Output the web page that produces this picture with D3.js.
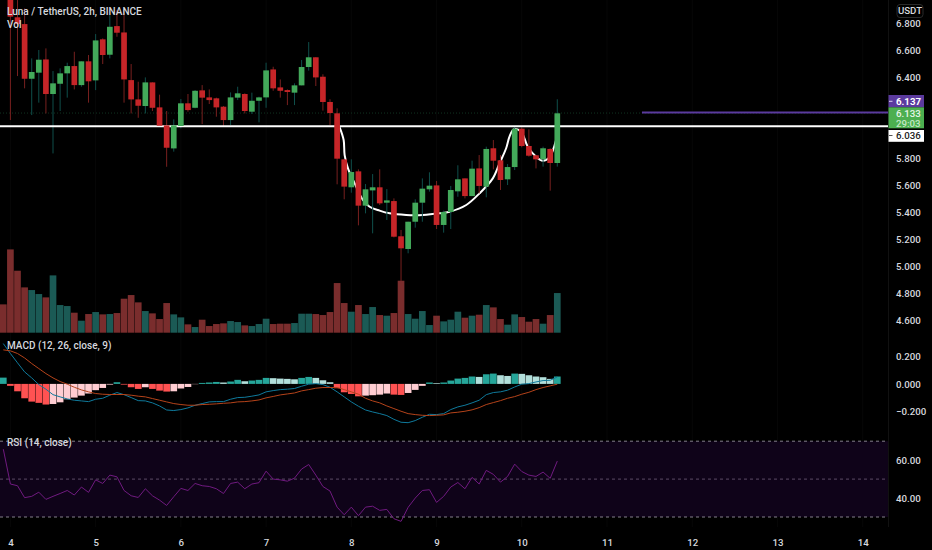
<!DOCTYPE html>
<html>
<head>
<meta charset="utf-8">
<script src="https://d3js.org/d3.v7.min.js"></script>
<style>
  html, body { margin: 0; padding: 0; background: #000; overflow: hidden; }
  text { font-family: Roboto, "Liberation Sans", sans-serif; fill: #d6d8de; }
  .tick text { font-size: 9.7px; font-weight: 500; }
  .axis .domain { stroke: none; }
  .legend { font-size: 10px; font-weight: 500; }
</style>
</head>
<body>
<svg id="chart" width="932" height="550"></svg>
<script>
// all series start one bar before the "4" tick
const opens = [7.15,7.007,6.842,6.792,6.387,6.432,6.530,6.274,6.350,6.427,6.481,6.340,6.516,6.375,6.679,6.565,6.777,6.730,6.377,6.234,6.185,6.360,6.175,6.042,5.871,6.037,6.205,6.172,6.301,6.249,6.242,6.180,6.081,6.247,6.274,6.143,6.224,6.249,6.456,6.323,6.303,6.284,6.338,6.474,6.546,6.402,6.215,6.131,5.790,5.583,5.701,5.447,5.560,5.583,5.469,5.481,5.220,5.126,5.328,5.469,5.568,5.597,5.304,5.400,5.553,5.649,5.518,5.723,5.588,5.872,5.783,5.642,5.733,6.017,5.889,5.820,5.790,5.867,5.763];
const closes = [7.05,6.847,6.792,6.387,6.437,6.528,6.274,6.353,6.427,6.481,6.340,6.516,6.368,6.671,6.563,6.772,6.728,6.382,6.234,6.187,6.360,6.172,6.039,5.876,6.042,6.205,6.155,6.298,6.247,6.229,6.175,6.081,6.249,6.279,6.148,6.224,6.249,6.449,6.316,6.298,6.289,6.338,6.474,6.546,6.397,6.215,6.133,5.795,5.588,5.696,5.447,5.568,5.583,5.464,5.486,5.217,5.131,5.328,5.469,5.573,5.595,5.304,5.400,5.563,5.642,5.518,5.721,5.593,5.867,5.780,5.637,5.733,6.017,5.889,5.817,5.790,5.872,5.763,6.131];
const highs = [7.2,7.044,6.970,6.908,6.538,6.600,6.612,6.444,6.464,6.506,6.587,6.516,6.563,6.718,6.686,6.859,6.896,6.896,6.496,6.365,6.397,6.360,6.269,6.148,6.086,6.237,6.274,6.303,6.340,6.308,6.247,6.185,6.286,6.328,6.279,6.284,6.254,6.506,6.476,6.382,6.308,6.353,6.526,6.659,6.546,6.420,6.235,6.168,5.790,5.790,5.716,5.607,5.681,5.716,5.570,5.501,5.267,5.328,5.494,5.649,5.694,5.630,5.410,5.593,5.746,5.649,5.780,5.822,5.884,5.933,5.822,5.755,6.037,6.027,6.012,5.820,5.884,5.872,6.235];
const lows = [7.0,6.081,6.407,6.316,6.118,6.210,6.130,5.834,6.148,6.247,6.308,6.328,6.210,6.303,6.496,6.538,6.698,6.210,6.130,6.098,6.130,6.148,6.037,5.735,5.847,6.019,6.143,6.168,6.051,6.200,6.106,6.032,6.044,6.229,6.130,6.126,6.064,6.172,6.298,6.247,6.192,6.192,6.338,6.447,6.333,6.151,6.044,5.605,5.494,5.543,5.301,5.390,5.242,5.452,5.341,5.212,4.889,5.094,5.284,5.328,5.551,5.274,5.247,5.274,5.513,5.501,5.518,5.538,5.509,5.716,5.563,5.600,5.711,5.879,5.810,5.723,5.736,5.558,5.736];
const volumes = [85,250,186,136,128,116,106,172,83,80,60,36,56,62,55,56,59,102,113,91,65,58,41,89,55,46,25,17,39,20,26,28,35,32,22,20,26,42,26,27,27,29,57,57,56,53,62,149,89,63,83,56,77,53,51,59,156,56,42,65,23,51,34,39,63,45,51,54,83,76,41,24,55,47,33,41,27,53,119];
const histogram = [0.045,-0.014,-0.053,-0.103,-0.127,-0.136,-0.148,-0.144,-0.132,-0.110,-0.098,-0.084,-0.069,-0.045,-0.029,-0.005,0.012,-0.005,-0.024,-0.036,-0.024,-0.036,-0.048,-0.055,-0.053,-0.033,-0.022,-0.002,0.007,0.010,0.014,0.010,0.017,0.029,0.019,0.024,0.029,0.043,0.041,0.038,0.036,0.033,0.043,0.050,0.043,0.026,0.012,-0.031,-0.060,-0.072,-0.089,-0.084,-0.081,-0.077,-0.069,-0.077,-0.079,-0.065,-0.043,-0.014,0.010,0.005,0.010,0.024,0.038,0.043,0.053,0.050,0.069,0.074,0.062,0.057,0.074,0.072,0.062,0.053,0.048,0.036,0.053];
const macdLine = [0.289,0.218,0.151,0.086,0.043,-0.005,-0.038,-0.077,-0.093,-0.108,-0.117,-0.122,-0.127,-0.110,-0.103,-0.081,-0.062,-0.077,-0.098,-0.120,-0.122,-0.136,-0.158,-0.187,-0.191,-0.184,-0.172,-0.153,-0.141,-0.129,-0.127,-0.127,-0.110,-0.098,-0.096,-0.088,-0.079,-0.057,-0.048,-0.041,-0.038,-0.033,-0.017,-0.002,0.002,-0.005,-0.024,-0.057,-0.093,-0.129,-0.160,-0.187,-0.201,-0.213,-0.227,-0.254,-0.275,-0.278,-0.263,-0.239,-0.218,-0.220,-0.213,-0.184,-0.165,-0.153,-0.136,-0.117,-0.077,-0.062,-0.057,-0.045,-0.022,-0.002,0.002,0.014,0.024,0.026,0.050];
const signalLine = [0.244,0.237,0.218,0.186,0.146,0.110,0.074,0.043,0.017,-0.002,-0.024,-0.043,-0.057,-0.069,-0.074,-0.076,-0.076,-0.076,-0.081,-0.088,-0.093,-0.105,-0.117,-0.129,-0.141,-0.148,-0.153,-0.153,-0.148,-0.146,-0.143,-0.139,-0.136,-0.129,-0.127,-0.122,-0.115,-0.100,-0.090,-0.079,-0.072,-0.065,-0.050,-0.041,-0.031,-0.026,-0.026,-0.026,-0.041,-0.057,-0.074,-0.103,-0.122,-0.136,-0.158,-0.177,-0.196,-0.213,-0.220,-0.225,-0.227,-0.225,-0.222,-0.208,-0.203,-0.196,-0.186,-0.170,-0.148,-0.134,-0.120,-0.103,-0.091,-0.074,-0.060,-0.041,-0.026,-0.014,-0.002];
const rsi = [65.8,47.4,46.5,40.2,40.9,43.1,39.3,40.9,42.4,44.0,41.6,45.8,43.0,49.6,47.7,52.1,51.2,44.0,41.2,40.3,44.9,41.2,38.9,36.1,40.7,45.1,44.0,47.7,46.5,46.1,44.9,42.4,47.7,48.4,44.9,47.4,48.1,54.2,50.0,49.6,48.9,50.5,55.3,57.7,52.1,46.1,43.7,35.2,31.2,35.2,30.7,35.2,35.7,33.5,34.0,29.1,27.7,35.1,40.0,44.0,44.4,37.7,40.9,45.8,48.2,44.9,50.9,47.4,54.6,52.5,48.4,51.4,57.9,54.0,52.1,51.4,53.7,50.4,59.5];

// hand drawn cup, bar number against price
const cupBars = [46.36,46.92,47.06,47.53,48.47,49.63,50.58,51.98,53.39,55.73,58.08,60.42,61.83,64.18,66.05,67.92,68.86,69.8,70.27,70.87,71.9,72.84,74.02,74.95,75.89,76.83];
const cupPrices = [6.027,5.933,5.822,5.723,5.612,5.489,5.439,5.410,5.390,5.378,5.378,5.390,5.402,5.452,5.538,5.649,5.760,5.872,5.958,6.012,5.995,5.884,5.810,5.780,5.805,5.933];

const dayTicks = [4,5,6,7,8,9,10,11,12,13,14];
const priceTicks = [6.8,6.6,6.4,5.8,5.6,5.4,5.2,5.0,4.8,4.6];
const macdTicks = [0.2,0,-0.2];
const rsiTicks = [60,40];
const rsiLevels = [70,50,30];
const supportLevel = 6.036;
const lastPrice = 6.133;
const alertLevel = 6.137;
const alertFromDay = 11.41;

const svg = d3.select("#chart");
const plotRight = 888.5;

const barDay = i => 4 + (i - 1) / 12;
const xScale = d3.scaleLinear().domain([4, 14]).range([10.4, 862.7]);
const priceScale = d3.scaleLinear().domain([6.8, 4.6]).range([23, 320]);
const volScale = d3.scaleLinear().domain([0, 250]).range([332.7, 249.4]);
const macdScale = d3.scaleLinear().domain([0.2, -0.2]).range([356, 411.8]);
const rsiScale = d3.scaleLinear().domain([70, 30]).range([441.2, 517]);

const step = xScale(4 + 1 / 12) - xScale(4);
const upColor = "#43a95a", downColor = "#c62528";
const upWick = "#0f4f4b", downWick = "#78201f";
const upVol = "#1b5a55", downVol = "#7a2d2d";

const bars = opens.map((o, i) => ({
  i: i, day: barDay(i), open: o, close: closes[i], high: highs[i], low: lows[i],
  vol: volumes[i], hist: histogram[i], prev: i > 0 ? histogram[i - 1] : 0,
  macd: macdLine[i], signal: signalLine[i], rsi: rsi[i]
}));
const isUp = d => d.close >= d.open;

// faint vertical grid
svg.append("g").selectAll("line").data(dayTicks).join("line")
  .attr("x1", d => xScale(d)).attr("x2", d => xScale(d))
  .attr("y1", 0).attr("y2", 527)
  .attr("stroke", "#070707");

// volume
svg.append("g").selectAll("rect").data(bars).join("rect")
  .attr("x", d => xScale(d.day) - step * 0.47)
  .attr("width", step * 0.94)
  .attr("y", d => volScale(d.vol))
  .attr("height", d => volScale(0) - volScale(d.vol))
  .attr("fill", d => isUp(d) ? upVol : downVol);

// last price line
svg.append("line")
  .attr("x1", 0).attr("x2", plotRight)
  .attr("y1", priceScale(lastPrice)).attr("y2", priceScale(lastPrice))
  .attr("stroke", "#0f3320").attr("stroke-dasharray", "1,2");

// cup drawing sits under the candles
const cupLine = d3.line()
  .x((d, i) => xScale(barDay(d + 1)))
  .y((d, i) => priceScale(cupPrices[i]))
  .curve(d3.curveCatmullRom);
svg.append("path").datum(cupBars)
  .attr("d", cupLine)
  .attr("fill", "none").attr("stroke", "#fff").attr("stroke-width", 2);

// wicks go under the support line, bodies over it
svg.append("g").selectAll("line").data(bars).join("line")
  .attr("x1", d => xScale(d.day)).attr("x2", d => xScale(d.day))
  .attr("y1", d => priceScale(d.high)).attr("y2", d => priceScale(d.low))
  .attr("stroke", d => isUp(d) ? upWick : downWick);

// support and alert lines
svg.append("line")
  .attr("x1", 0).attr("x2", plotRight)
  .attr("y1", priceScale(supportLevel)).attr("y2", priceScale(supportLevel))
  .attr("stroke", "#fff").attr("stroke-width", 2);
svg.append("line")
  .attr("x1", xScale(alertFromDay)).attr("x2", plotRight)
  .attr("y1", priceScale(alertLevel)).attr("y2", priceScale(alertLevel))
  .attr("stroke", "#5b3a9e").attr("stroke-width", 2);

svg.append("g").selectAll("rect").data(bars).join("rect")
  .attr("x", d => xScale(d.day) - step * 0.4)
  .attr("width", step * 0.8)
  .attr("y", d => priceScale(Math.max(d.open, d.close)))
  .attr("height", d => Math.max(1, Math.abs(priceScale(d.open) - priceScale(d.close))))
  .attr("fill", d => isUp(d) ? upColor : downColor);

// MACD histogram, colour follows the direction of the bar
const histColor = d => d.hist >= 0
  ? (d.hist >= d.prev ? "#26a69a" : "#b2dfdb")
  : (d.hist < d.prev ? "#ff5252" : "#ffcdd2");
svg.append("g").selectAll("rect").data(bars).join("rect")
  .attr("x", d => xScale(d.day) - step * 0.47)
  .attr("width", step * 0.94)
  .attr("y", d => Math.min(macdScale(0), macdScale(d.hist)))
  .attr("height", d => Math.abs(macdScale(d.hist) - macdScale(0)))
  .attr("fill", histColor);

const macdGen = d3.line().x(d => xScale(d.day)).y(d => macdScale(d.macd));
const signalGen = d3.line().x(d => xScale(d.day)).y(d => macdScale(d.signal));
svg.append("path").datum(bars).attr("d", macdGen)
  .attr("fill", "none").attr("stroke", "#0f7a9c").attr("stroke-width", 1);
svg.append("path").datum(bars).attr("d", signalGen)
  .attr("fill", "none").attr("stroke", "#b5431a").attr("stroke-width", 1);

// RSI pane
svg.append("rect")
  .attr("x", 0).attr("width", plotRight)
  .attr("y", rsiScale(70)).attr("height", rsiScale(30) - rsiScale(70))
  .attr("fill", "#0f0319");
svg.append("g").selectAll("line").data(rsiLevels).join("line")
  .attr("x1", 0).attr("x2", plotRight)
  .attr("y1", d => rsiScale(d)).attr("y2", d => rsiScale(d))
  .attr("stroke", d => d === 50 ? "#5c4a66" : "#85808c")
  .attr("stroke-dasharray", "3,3");
const rsiGen = d3.line().x(d => xScale(d.day)).y(d => rsiScale(d.rsi));
svg.append("path").datum(bars).attr("d", rsiGen)
  .attr("fill", "none").attr("stroke", "#701a80").attr("stroke-width", 1);

// axes
const rightAxis = (scale, ticks, fmt) => d3.axisRight(scale)
  .tickValues(ticks).tickFormat(d3.format(fmt)).tickSize(0).tickPadding(7.5);
svg.append("g").attr("class", "axis").attr("transform", `translate(${plotRight},0)`)
  .call(rightAxis(priceScale, priceTicks, ".3f"));
svg.append("g").attr("class", "axis").attr("transform", `translate(${plotRight},0)`)
  .call(rightAxis(macdScale, macdTicks, ".3f"));
svg.append("g").attr("class", "axis").attr("transform", `translate(${plotRight},0)`)
  .call(rightAxis(rsiScale, rsiTicks, ".2f"));
svg.append("g").attr("class", "axis").attr("transform", "translate(0,530)")
  .call(d3.axisBottom(xScale).tickValues(dayTicks).tickFormat(d3.format("d")).tickSize(0).tickPadding(9));

svg.append("line")
  .attr("x1", plotRight).attr("x2", plotRight)
  .attr("y1", 0).attr("y2", 527)
  .attr("stroke", "#111");

// legends
svg.append("text").attr("class", "legend").attr("x", 7).attr("y", 15).text("Luna / TetherUS, 2h, BINANCE");
svg.append("text").attr("class", "legend").attr("x", 7).attr("y", 28).text("Vol");
svg.append("text").attr("class", "legend").attr("x", 7).attr("y", 349).text("MACD (12, 26, close, 9)");
svg.append("text").attr("class", "legend").attr("x", 7).attr("y", 446).text("RSI (14, close)");

// price labels
svg.append("rect").attr("x", 897).attr("y", 4.5).attr("width", 26).attr("height", 13).attr("rx", 3)
  .attr("fill", "#000").attr("stroke", "#2a2a2a");
svg.append("text").attr("x", 910).attr("y", 14.3).attr("text-anchor", "middle")
  .style("font-size", "9.7px").style("font-weight", 500).text("USDT");

const tagX = plotRight, tagW = 35.5;
svg.append("rect").attr("x", tagX).attr("y", 95).attr("width", tagW).attr("height", 12.3).attr("fill", "#5b3a9e");
svg.append("rect").attr("x", tagX).attr("y", 107.3).attr("width", tagW).attr("height", 21).attr("fill", "#4caf50");
svg.append("rect").attr("x", tagX).attr("y", 130).attr("width", tagW).attr("height", 11.8).attr("fill", "#fff");
const tagText = [
  { label: alertLevel.toFixed(3), y: 105, color: "#fff", weight: 700, tick: "#d8cdef", tickY: 101.3 },
  { label: lastPrice.toFixed(3), y: 117.4, color: "#e6f5e7", weight: 500 },
  { label: "29:03", y: 127, color: "#c3e6c5", weight: 500 },
  { label: supportLevel.toFixed(3), y: 138.9, color: "#222", weight: 500, tick: "#555", tickY: 135.5 }
];
svg.append("g").selectAll("text").data(tagText).join("text")
  .attr("x", 896).attr("y", d => d.y)
  .text(d => d.label)
  .style("font-size", "9.7px").style("font-weight", d => d.weight).style("fill", d => d.color);
svg.append("g").selectAll("line").data(tagText.filter(d => d.tick)).join("line")
  .attr("x1", 889).attr("x2", 892.5)
  .attr("y1", d => d.tickY).attr("y2", d => d.tickY)
  .attr("stroke", d => d.tick);
</script>
</body>
</html>
